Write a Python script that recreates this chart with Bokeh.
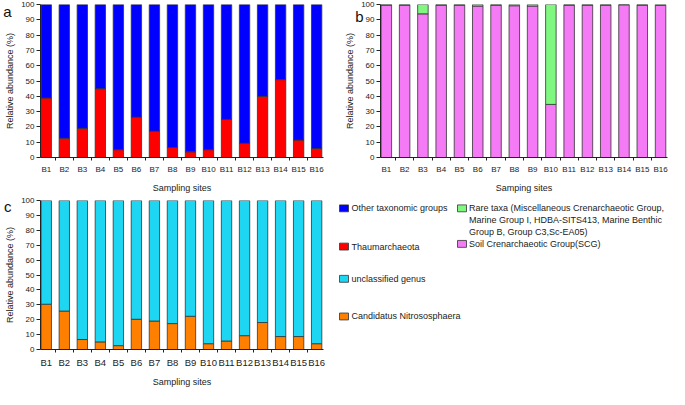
from bokeh.plotting import figure
from bokeh.layouts import column, row
from bokeh.models import Range1d, FixedTicker, LinearAxis, ColumnDataSource
from bokeh.core.properties import value
from bokeh.embed import file_html
from bokeh.resources import INLINE

FONT = "Liberation Sans"

# ---------------- data ----------------
sites = ["B1", "B2", "B3", "B4", "B5", "B6", "B7", "B8",
         "B9", "B10", "B11", "B12", "B13", "B14", "B15", "B16"]
xpos = [1, 2, 3, 4, 5, 6, 7, 8, 9, 10, 11, 12, 13, 14, 15, 16]

# panel a
thaum = [38.9, 12.6, 19.1, 45.0, 5.1, 26.4, 17.2, 6.5, 3.7, 5.1, 24.9, 9.3, 40.0, 50.9, 11.4, 5.9]
other = [61.1, 87.4, 80.9, 55.0, 94.9, 73.6, 82.8, 93.5, 96.3, 94.9, 75.1, 90.7, 60.0, 49.1, 88.6, 94.1]

# panel b
scg = [99.6, 99.6, 93.9, 99.6, 99.6, 99.0, 99.6, 99.2, 99.0, 34.7, 99.6, 99.6, 99.6, 99.8, 99.6, 99.4]
rare = [0.4, 0.4, 6.1, 0.4, 0.4, 1.0, 0.4, 0.8, 1.0, 65.3, 0.4, 0.4, 0.4, 0.2, 0.4, 0.6]

# panel c
nitroso = [30.4, 25.8, 6.7, 5.1, 2.6, 20.3, 19.1, 17.4, 22.3, 3.9, 5.7, 9.3, 18.1, 8.7, 8.7, 3.9]
unclass = [69.6, 74.2, 93.3, 94.9, 97.4, 79.7, 80.9, 82.6, 77.7, 96.1, 94.3, 90.7, 81.9, 91.3, 91.3, 96.1]

yticks = [0, 10, 20, 30, 40, 50, 60, 70, 80, 90, 100]

# legend
leg_left_labels = ["Other taxonomic groups", "Thaumarchaeota", "unclassified genus", "Candidatus Nitrososphaera"]
leg_left_colors = ["#0000FF", "#FF0000", "#1ED6F2", "#FF8000"]
leg_right_labels = [["Rare taxa (Miscellaneous Crenarchaeotic Group,",
                     "Marine Group I, HDBA-SITS413, Marine Benthic",
                     "Group B, Group C3,Sc-EA05)"],
                    ["Soil Crenarchaeotic Group(SCG)"]]
leg_right_colors = ["#80F880", "#F57AF5"]

EDGE = "#333333"
X0, X1 = 0.68, 16.38


def make_panel(width, height, lb, rb, tb, bb, xfs, xlabel, letter, letter_y, letter_standoff):
    p = figure(width=width, height=height,
               x_range=Range1d(X0, X1), y_range=Range1d(0, 100),
               output_backend="svg", toolbar_location=None,
               min_border_left=lb, min_border_right=rb,
               min_border_top=tb, min_border_bottom=bb)
    p.grid.visible = False
    p.outline_line_color = None
    p.background_fill_color = "white"
    p.border_fill_color = "white"

    xa = p.xaxis[0]
    xa.ticker = FixedTicker(ticks=xpos, minor_ticks=[i + 0.5 for i in xpos])
    xa.major_label_overrides = {x: s for x, s in zip(xpos, sites)}
    xa.major_tick_line_color = None
    xa.major_tick_out = 0
    xa.major_tick_in = 0
    xa.minor_tick_out = 3
    xa.minor_tick_in = 0
    xa.minor_tick_line_color = "#222222"
    xa.major_label_standoff = 4
    xa.major_label_text_font = FONT
    xa.major_label_text_font_size = xfs
    xa.major_label_text_color = "#222222"
    xa.axis_label = xlabel
    xa.axis_label_text_font = FONT
    xa.axis_label_text_font_size = "9px"
    xa.axis_label_text_font_style = "normal"
    xa.axis_label_text_color = "#222222"
    xa.axis_label_standoff = 6
    xa.axis_line_color = "#222222"

    ya = p.yaxis[0]
    ya.ticker = FixedTicker(ticks=yticks)
    ya.major_tick_out = 4
    ya.major_tick_in = 0
    ya.minor_tick_line_color = None
    ya.major_tick_line_color = "#222222"
    ya.major_label_standoff = 2
    ya.major_label_text_font = FONT
    ya.major_label_text_font_size = "8px"
    ya.major_label_text_color = "#222222"
    ya.axis_label = "Relative abundance (%)"
    ya.axis_label_text_font = FONT
    ya.axis_label_text_font_size = "9px"
    ya.axis_label_text_font_style = "normal"
    ya.axis_label_text_color = "#222222"
    ya.axis_label_standoff = 3
    ya.axis_line_color = "#222222"

    # panel letter drawn as the single tick label of an invisible outer axis
    lax = LinearAxis(ticker=FixedTicker(ticks=[letter_y]),
                     major_label_overrides={letter_y: letter},
                     axis_line_color=None, major_tick_line_color=None,
                     minor_tick_line_color=None,
                     major_tick_out=0, major_tick_in=0,
                     minor_tick_out=0, minor_tick_in=0,
                     major_label_standoff=letter_standoff,
                     major_label_orientation="horizontal",
                     major_label_text_font=FONT,
                     major_label_text_font_size="15px",
                     major_label_text_color="#111111")
    p.add_layout(lax, "left")
    return p


# ---------------- panel a ----------------
pa = make_panel(334, 195, 38, 11, 4, 33, "8px", "Sampling sites", "a", 95.5, -9)
src_a = ColumnDataSource(dict(x=xpos, thaum=thaum, other=other))
pa.vbar_stack(["thaum", "other"], x="x", width=0.575, source=src_a,
              color=["#FF0000", "#0000FF"], line_color=EDGE, line_width=0.8)

# ---------------- panel b ----------------
pb = make_panel(335, 195, 46, 2, 4, 33, "8px", "Samping sites", "b", 92, -21)
src_b = ColumnDataSource(dict(x=xpos, scg=scg, rare=rare))
pb.vbar_stack(["scg", "rare"], x="x", width=0.575, source=src_b,
              color=["#F57AF5", "#80F880"], line_color=EDGE, line_width=0.8)

# ---------------- panel c ----------------
pc = make_panel(334, 194, 38, 11, 5, 31, "9.5px", "Sampling sites", "c", 96, -9)
src_c = ColumnDataSource(dict(x=xpos, nitroso=nitroso, unclass=unclass))
pc.vbar_stack(["nitroso", "unclass"], x="x", width=0.575, source=src_c,
              color=["#FF8000", "#1ED6F2"], line_color=EDGE, line_width=0.8)

# ---------------- legend panel ----------------
LW, LH = 335, 194
leg = figure(width=LW, height=LH, x_range=Range1d(0, LW), y_range=Range1d(LH, 0),
             output_backend="svg", toolbar_location=None,
             x_axis_location=None, y_axis_location=None, min_border=0)
leg.grid.visible = False
leg.outline_line_color = None

SQ = 9
left_sq_x = 9.5
left_txt_x = 17
left_y = [10.2, 60.0, 102.0, 151.0]
right_sq_x = 127.5
right_txt_x = 134.5
right_y = [10.2, 56.5]
line_gap = 15.5

leg.rect(x=[left_sq_x] * len(left_y), y=left_y, width=SQ, height=SQ,
         fill_color=leg_left_colors, line_color=EDGE, line_width=0.8)
leg.text(x=[left_txt_x] * len(left_y), y=left_y, text=leg_left_labels,
         text_font=value(FONT), text_font_size="9px", text_color="#222222",
         text_baseline="middle", text_align="left")

leg.rect(x=[right_sq_x] * len(right_y), y=right_y, width=SQ, height=SQ,
         fill_color=leg_right_colors, line_color=EDGE, line_width=0.8)
rx, ry, rt = [], [], []
for y0, lines in zip(right_y, leg_right_labels):
    for k, t in enumerate(lines):
        rx.append(right_txt_x)
        ry.append(y0 + k * line_gap)
        rt.append(t)
leg.text(x=rx, y=ry, text=rt,
         text_font=value(FONT), text_font_size="9px", text_color="#222222",
         text_baseline="middle", text_align="left")

layout = column(row(pa, pb), row(pc, leg))
open("out.html", "w").write(file_html(layout, INLINE))
